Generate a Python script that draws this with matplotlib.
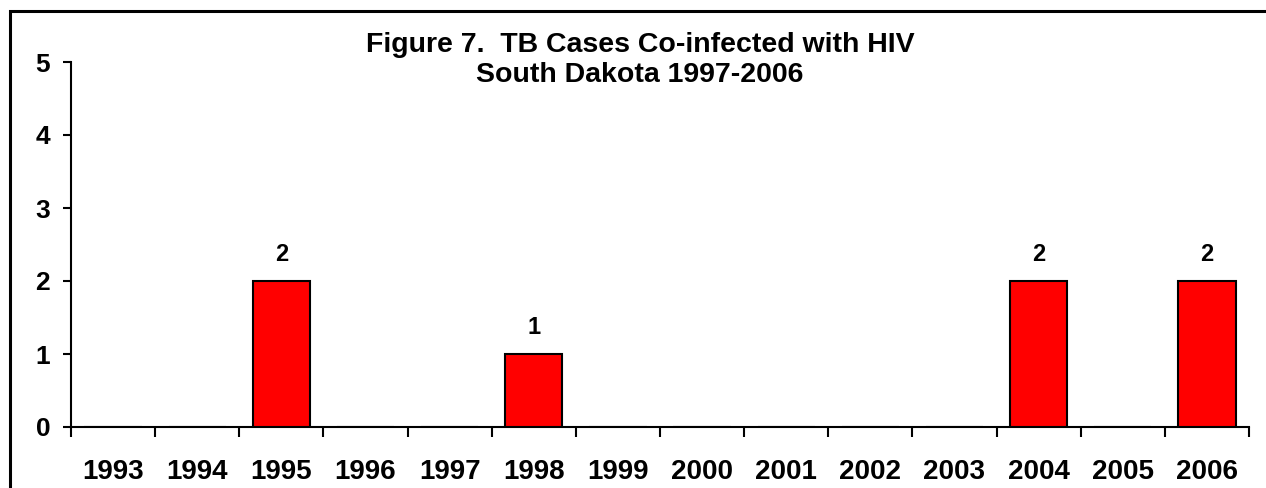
import matplotlib
matplotlib.use('Agg')
import matplotlib.pyplot as plt
from matplotlib.patches import Rectangle

# data
years = ['1993', '1994', '1995', '1996', '1997', '1998', '1999',
         '2000', '2001', '2002', '2003', '2004', '2005', '2006']
cases = [0, 0, 2, 0, 0, 1, 0, 0, 0, 0, 0, 2, 0, 2]

title_text = 'Figure 7.  TB Cases Co-infected with HIV\nSouth Dakota 1997-2006'

plt.rcParams['font.family'] = ['Liberation Sans', 'DejaVu Sans']
plt.rcParams['font.weight'] = 'bold'

fig = plt.figure(figsize=(12.66, 4.88), dpi=100)
ax = fig.add_axes([71 / 1266, 1 - 427 / 488, (1249 - 71) / 1266, (427 - 62) / 488])

x = range(len(years))
bars = ax.bar(x, cases, width=0.68, color='#ff0000', edgecolor='black', linewidth=1.5, zorder=3)
for xi, v in zip(x, cases):
    if v > 0:
        ax.text(xi, v + 0.2, str(v), ha='center', va='bottom', fontsize=17, fontweight='bold')

ax.set_xlim(-0.5, len(years) - 0.5)
ax.set_ylim(0, 5)
ax.set_yticks(range(0, 6))
ax.set_yticklabels([str(i) for i in range(0, 6)], fontsize=19, fontweight='bold')

# ticks at the category boundaries, labels in the middle
ax.set_xticks([i - 0.5 for i in range(len(years) + 1)])
ax.set_xticklabels([])
ax.set_xticks(list(x), minor=True)
ax.set_xticklabels(years, minor=True, fontsize=20, fontweight='bold')
ax.tick_params(axis='x', which='major', direction='out', length=7, width=1.5)
ax.tick_params(axis='x', which='minor', length=0, pad=23)
ax.tick_params(axis='y', direction='out', length=6, width=1.5, pad=9)

ax.spines['top'].set_visible(False)
ax.spines['right'].set_visible(False)
ax.spines['left'].set_linewidth(1.5)
ax.spines['bottom'].set_linewidth(1.5)

fig.text(640 / 1266, 1 - 60 / 488, title_text, ha='center', va='center',
         fontsize=20.5, fontweight='bold', linespacing=1.2)

# frame round the chart (only top and left show in the picture)
fig.patches.append(Rectangle((9.5 / 1266, -0.5), 2, 0.5 + 1 - 10.5 / 488,
                             transform=fig.transFigure, fill=False,
                             edgecolor='black', linewidth=2.2))

fig.savefig('out.png', dpi=100)
